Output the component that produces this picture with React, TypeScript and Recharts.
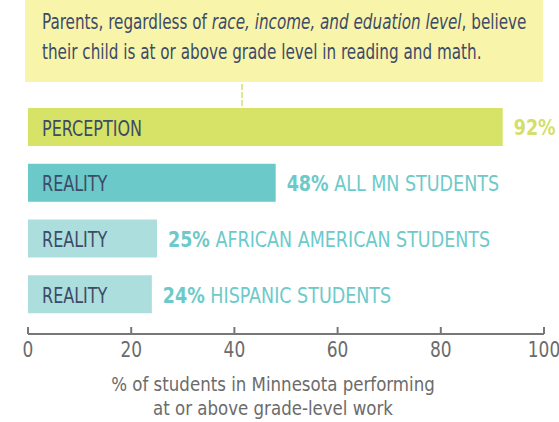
import { BarChart, Bar, XAxis, YAxis, Cell, LabelList } from 'recharts'

const FONT = "'DejaVu Sans Condensed', 'DejaVu Sans', sans-serif"

const rowKeys = ['perception', 'all', 'african', 'hispanic']
const barLabels = ['PERCEPTION', 'REALITY', 'REALITY', 'REALITY']
const percentValues = [92, 48, 25, 24]
const groupNames = ['', 'ALL MN STUDENTS', 'AFRICAN AMERICAN STUDENTS', 'HISPANIC STUDENTS']
const xTicks = [0, 20, 40, 60, 80, 100]

const BAR_COLORS = ['#d6e366', '#6cc9c9', '#acdedd', '#acdedd']
const VALUE_COLORS = ['#d4df6a', '#6ccaca', '#6ccaca', '#6ccaca']

const data = rowKeys.map((key, i) => ({
  key,
  label: barLabels[i],
  value: percentValues[i],
  group: groupNames[i],
}))

function AxisTick({ x, y, payload }: any) {
  return (
    <g>
      <line x1={x} x2={x} y1={y - 7} y2={y} stroke="#777" strokeWidth={2} />
      <text
        transform={`translate(${x},${y + 23}) scale(0.9,1)`}
        textAnchor="middle"
        fill="#6b6b6b"
        fontSize={21}
        fontFamily={FONT}
      >
        {payload.value}
      </text>
    </g>
  )
}

// title sits a bit left of the plot centre in the original
function AxisTitle({ viewBox }: any) {
  const cx = viewBox.x + viewBox.width / 2 - 13
  return (
    <g fill="#6b6b6b" fontSize={20} fontFamily={FONT} textAnchor="middle">
      <text transform={`translate(${cx},391) scale(0.925,1)`}>% of students in Minnesota performing</text>
      <text transform={`translate(${cx},415) scale(0.925,1)`}>at or above grade-level work</text>
    </g>
  )
}

function InsideLabel({ x, y, height, value }: any) {
  return (
    <text
      transform={`translate(${x + 14},${y + height / 2 + 1}) scale(0.81,1)`}
      dominantBaseline="central"
      fill="#3d4a68"
      fontSize={22}
      fontFamily={FONT}
    >
      {value}
    </text>
  )
}

function ValueLabel({ x, y, width, height, value, index }: any) {
  const color = VALUE_COLORS[index]
  return (
    <text
      transform={`translate(${x + width + 11},${y + height / 2 + 1}) scale(0.885,1)`}
      dominantBaseline="central"
      fill={color}
      fontSize={22}
      fontFamily={FONT}
    >
      <tspan fontWeight="bold">{value}%</tspan>
      <tspan> {data[index].group}</tspan>
    </text>
  )
}

export default function App() {
  return (
    <div style={{ position: 'absolute', left: 0, top: 0, width: 559, height: 422, background: '#fff' }}>
      {/* callout box */}
      <div
        style={{
          position: 'absolute',
          left: 25,
          top: 0,
          width: 518,
          height: 82,
          background: '#f8f4a9',
          overflow: 'hidden',
        }}
      >
        <div
          style={{
            position: 'absolute',
            left: 17,
            top: 7,
            color: '#3d4a68',
            fontFamily: FONT,
            fontSize: 21,
            lineHeight: '30px',
            whiteSpace: 'nowrap',
            transform: 'scaleX(0.805)',
            transformOrigin: 'left top',
          }}
        >
          Parents, regardless of <i>race, income, and eduation level</i>, believe
          <br />
          their child is at or above grade level in reading and math.
        </div>
      </div>
      <div
        style={{
          position: 'absolute',
          left: 241,
          top: 84,
          height: 22,
          borderLeft: '2px dashed #dfe88a',
        }}
      />
      <BarChart
        width={559}
        height={422}
        data={data}
        layout="vertical"
        margin={{ top: 96, right: 15, bottom: 0, left: 28 }}
        barSize={38}
      >
        <XAxis
          type="number"
          domain={[0, 100]}
          ticks={xTicks}
          height={88}
          tickSize={0}
          tickMargin={0}
          tickLine={false}
          axisLine={{ stroke: '#777', strokeWidth: 2 }}
          tick={<AxisTick />}
          label={{ content: <AxisTitle /> }}
        />
        <YAxis
          type="category"
          dataKey="key"
          width={0}
          tick={false}
          tickLine={false}
          padding={{ top: 3, bottom: 12 }}
          axisLine={{ stroke: '#666', strokeWidth: 2 }}
        />
        <Bar dataKey="value" isAnimationActive={false}>
          {data.map((d, i) => (
            <Cell key={d.key} fill={BAR_COLORS[i]} />
          ))}
          <LabelList dataKey="label" content={<InsideLabel />} />
          <LabelList dataKey="value" content={<ValueLabel />} />
        </Bar>
      </BarChart>
    </div>
  )
}
